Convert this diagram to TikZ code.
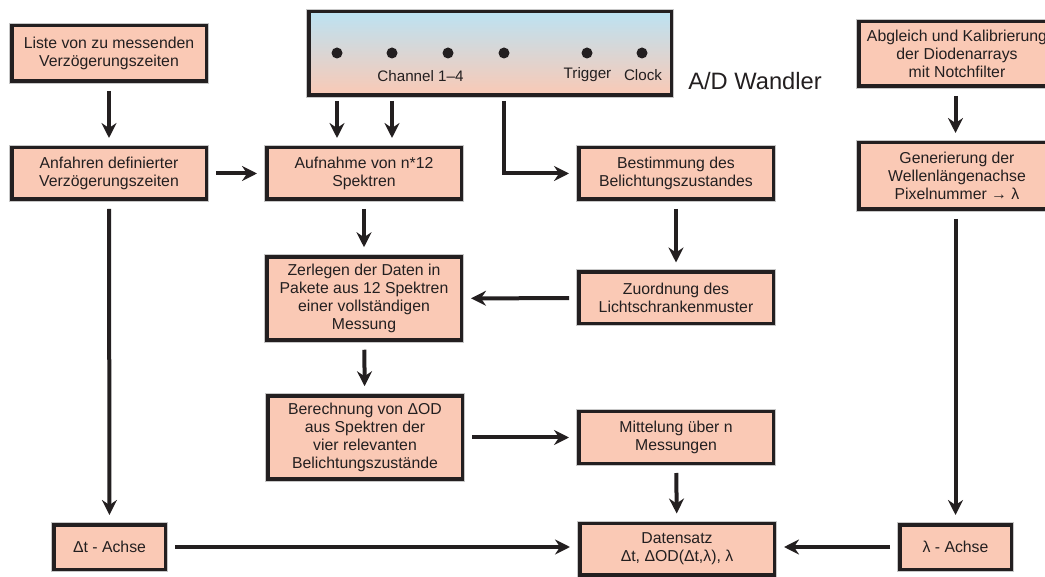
\documentclass[tikz,border=0pt]{standalone}
\usepackage{fontspec}
\setmainfont{Liberation Sans}
\usetikzlibrary{arrows.meta}
\definecolor{ink}{HTML}{231F20}
\definecolor{salmon}{RGB}{250,201,181}
\definecolor{skyb}{RGB}{188,226,242}
\begin{document}
\begin{tikzpicture}[x=1pt,y=-1pt,
  box/.style={draw=ink, line width=3.5pt, fill=salmon, align=center, inner sep=0pt,
    text=ink, font=\fontsize{15.8}{18.2}\selectfont,
    preaction={draw=black!22, line width=5.5pt}},
  twoline/.style={box, minimum width=194.5pt, minimum height=51.5pt},
  fourline/.style={box, minimum width=194.5pt, minimum height=83pt},
  threeline/.style={box, minimum width=196.5pt, minimum height=65pt},
  smallbox/.style={box, minimum width=111.5pt, minimum height=44.5pt},
  lab/.style={text=ink, font=\fontsize{15.2}{18}\selectfont, inner sep=0pt},
  dotmark/.style={circle, fill=ink, minimum size=11pt, inner sep=0pt},
  flow/.style={draw=ink, line width=4pt, -{Stealth[length=15pt,width=15pt,inset=5pt]},
    shorten <=8pt, shorten >=8pt},
]
\path[use as bounding box, clip] (0,0) rectangle (1045,577);

% A/D converter
\node[draw=ink, line width=3.5pt, top color=skyb, bottom color=salmon,
  minimum width=362.5pt, minimum height=83.5pt, inner sep=0pt,
  preaction={draw=black!22, line width=5.5pt}] (ad) at (490,53.5) {};
\node[dotmark] (c1) at (337,53) {};
\node[dotmark] (c2) at (392,53) {};
\node[dotmark] (c3) at (448,53) {};
\node[dotmark] (c4) at (504,53) {};
\node[dotmark] (tr) at (587,53) {};
\node[dotmark] (cl) at (642,53) {};
\node[lab] (chl) at (420.5,76) {Channel 1–4};
\node[lab] (trl) at (587.5,75) {Trigger};
\node[lab] (cll) at (643,75) {Clock};
\node[text=ink, font=\fontsize{23.7}{27}\selectfont, inner sep=0pt] (adl) at (755,81) {A/D Wandler};

% boxes
\node[box, minimum width=194.5pt, minimum height=55.5pt] (liste) at (109,53.5) {Liste von zu messenden\\Verzögerungszeiten};
\node[twoline] (anf) at (109,173.5) {Anfahren definierter\\Verzögerungszeiten};
\node[twoline] (aufn) at (364,173.5) {Aufnahme von n*12\\Spektren};
\node[twoline] (best) at (676,173.5) {Bestimmung des\\Belichtungszustandes};
\node[fourline] (zerl) at (364,298.5) {Zerlegen der Daten in\\Pakete aus 12 Spektren\\einer vollständigen\\Messung};
\node[twoline] (zuord) at (676,298) {Zuordnung des\\Lichtschrankenmuster};
\node[fourline] (ber) at (365,437.5) {Berechnung von ΔOD\\aus Spektren der\\vier relevanten\\Belichtungszustände};
\node[twoline] (mitt) at (676,437.5) {Mittelung über n\\Messungen};
\node[smallbox] (dt) at (109.5,547) {Δt - Achse};
\node[twoline] (daten) at (677,549) {Datensatz\\Δt, ΔOD(Δt,λ), λ};
\node[smallbox] (lam) at (955.5,547) {λ - Achse};
\node[threeline, minimum height=64.5pt] (abgl) at (957,54) {Abgleich und Kalibrierung\\der Diodenarrays\\mit Notchfilter};
\node[threeline, minimum height=66.5pt] (gen) at (957,176) {Generierung der\\Wellenlängenachse\\Pixelnummer → λ};

% connectors
\draw[flow] (liste) -- (anf);
\draw[flow] (anf) -- (aufn);
\draw[flow, shorten <=4pt] (ad.south -| c1) -- (aufn.north -| c1);
\draw[flow, shorten <=4pt] (ad.south -| c2) -- (aufn.north -| c2);
\draw[flow, shorten <=4pt] (ad.south -| c4) |- (best.west);
\draw[flow] (aufn) -- (zerl);
\draw[flow] (best) -- (zuord);
\draw[flow] (zuord) -- (zerl);
\draw[flow] (zerl) -- (ber);
\draw[flow] (ber) -- (mitt);
\draw[flow] (mitt) -- (daten);
\draw[flow] (anf) -- (dt);
\draw[flow] (dt.east) -- (dt.east -| daten.west);
\draw[flow] (lam.west) -- (lam.west -| daten.east);
\draw[flow] (abgl.south -| lam.north) -- (gen.north -| lam.north);
\draw[flow] (gen.south -| lam.north) -- (lam.north);
\end{tikzpicture}
\end{document}
